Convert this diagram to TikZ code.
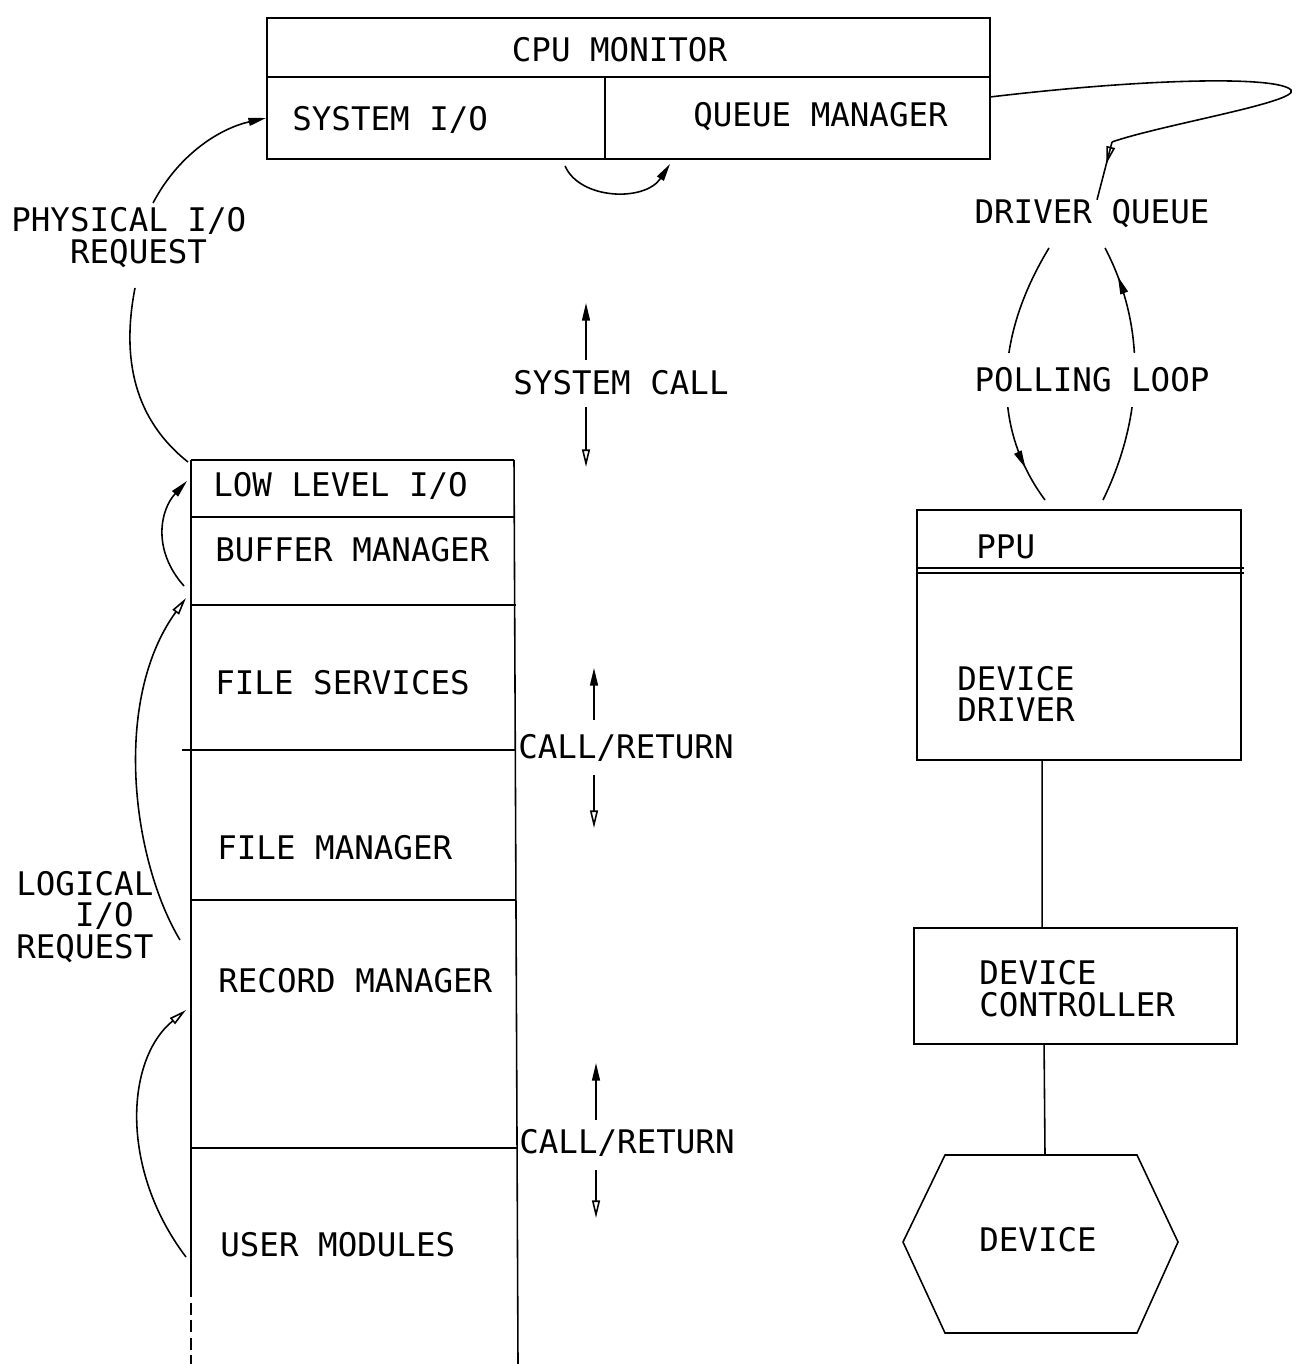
\documentclass[tikz,border=0pt]{standalone}
\usepackage{fontspec}
\setmonofont{DejaVu Sans Mono}
\usetikzlibrary{arrows.meta,decorations.markings,calc,backgrounds}

\tikzset{
  txt/.style={inner sep=0pt, text height=13.5pt, text depth=0pt},
  multi/.style={inner sep=0pt, align=left},
  boxframe/.style={draw, line width=1.1pt, inner sep=0pt},
  heavy/.style={line width=1.4pt},
  rule/.style={line width=1.2pt},
  edge/.style={line width=0.9pt},
  conn/.style={line width=0.9pt},
  tipF/.style={-{Triangle[length=10pt,width=4.5pt]}},
  tipO/.style={-{Triangle[open,length=10pt,width=4.5pt]}},
  midtip/.style={postaction={decorate},
    decoration={markings, mark=at position #1 with {\arrow{Triangle[length=10pt,width=4.5pt]}}}},
  midtipO/.style={postaction={decorate},
    decoration={markings, mark=at position #1 with {\arrow{Triangle[open,length=10pt,width=5pt]}}}}
}

\begin{document}
\begin{tikzpicture}[x=0.02cm, y=-0.02cm,
  font=\ttfamily\fontsize{18.5pt}{18.1pt}\selectfont]
\useasboundingbox (0,0) rectangle (1295,1364);

% ---------- CPU monitor ----------
\node[boxframe, heavy, minimum width=14.46cm, minimum height=2.82cm] (cpu) at (628.5,88.5) {};
\draw[heavy] (267,77) -- (990,77);
\draw[edge] (605,77) -- (605,159);
\node[txt] (cpumon) at (619.5,50) {CPU MONITOR};
\node[txt, anchor=west] (sysio) at (292,119) {SYSTEM I/O};
\node[txt, anchor=west] (qman) at (693,115) {QUEUE MANAGER};
\coordinate (sysio-in) at (266,118);
\coordinate (qman-out) at (990,97);
\coordinate (below-a) at (565,166);
\coordinate (below-b) at (670,164);

% hand-off between the two halves of the monitor
\draw[conn, tipF] (below-a) .. controls (580,200) and (645,202) .. (below-b);

% ---------- driver queue and polling loop ----------
\node[txt] (dq) at (1092,212) {DRIVER QUEUE};
\node[txt, fill=white, inner xsep=2pt, inner ysep=0.3cm] (poll) at (1092,380) {POLLING LOOP};
\coordinate (qbend) at (1112,142);

\draw[conn] (qman-out) .. controls (1150,78) and (1278,76) .. (1291,90)
   .. controls (1300,102) and (1160,125) .. (qbend);
\draw[conn, midtipO=0.38] (qbend) -- (dq.north -| 1097,0);

% ---------- PPU / device driver ----------
\node[boxframe, minimum width=6.48cm, minimum height=5cm] (ppu) at (1079,635) {};
\draw[edge] (917,568) -- (1244,568);
\draw[edge] (917,573) -- (1244,573);
\node[txt, anchor=west] (ppulbl) at (976,547) {PPU};
\node[multi, anchor=west] (drv) at (957,694) {DEVICE\\DRIVER};

\begin{scope}[on background layer]
  \draw[conn, midtip=0.86] (1049,248) .. controls (993,340) and (993,430) .. (1045,500);
  \draw[conn, midtip=0.88] (1103,500) .. controls (1142,420) and (1148,330) .. (1105,248);
\end{scope}

% ---------- device controller and device ----------
\node[boxframe, minimum width=6.46cm, minimum height=2.32cm] (ctrl) at (1075.5,986) {};
\node[multi, anchor=west] (ctrllbl) at (979,989) {DEVICE\\CONTROLLER};
\node[txt] (dev) at (1038,1240) {DEVICE};
\draw[edge] (945,1155) -- (1137,1155) -- (1178,1242) -- (1137,1333) -- (945,1333) -- (903,1242) -- cycle;
\coordinate (devtop) at (1045,1155);

\draw[edge] ($(ppu.south west)+(126,0)$) -- ($(ctrl.north west)+(129,0)$);
\draw[edge] ($(ctrl.south west)+(131,0)$) -- (devtop);

% ---------- system call ----------
\node[txt] (scall) at (621,383) {SYSTEM CALL};
\coordinate (sc-up) at (586,303);
\coordinate (sc-dn) at (586,467);
\draw[conn, tipF] (586,360) -- (sc-up);
\draw[conn, tipO] (586,407) -- (sc-dn);

% ---------- layered I/O stack ----------
\draw[rule] (191,460) -- (514,460);
\draw[edge] (191,460) -- (191,1285);
\draw[edge, dash pattern=on 7pt off 3pt] (191,1285) -- (191,1364);
\draw[edge] (514,460) -- (518,1364);
\draw[rule] (191,517) -- (514,517);
\draw[rule] (191,605) -- (516,605);
\draw[rule] (182,750) -- (515,750);
\draw[rule] (191,900) -- (516,900);
\draw[rule] (191,1148) -- (517,1148);

\node[txt, anchor=west] (lowio) at (213,485) {LOW LEVEL I/O};
\node[txt, anchor=west] (bufmgr) at (215,550) {BUFFER MANAGER};
\node[txt, anchor=west] (filesvc) at (215,683) {FILE SERVICES};
\node[txt, anchor=west] (filemgr) at (217,848) {FILE MANAGER};
\node[txt, anchor=west] (recmgr) at (218,981) {RECORD MANAGER};
\node[txt, anchor=west] (usermod) at (220,1245) {USER MODULES};

\node[txt, anchor=west] (cr1) at (518,747) {CALL/RETURN};
\node[txt, anchor=west] (cr2) at (519,1142) {CALL/RETURN};
\draw[conn, tipF] (594,720) -- (594,668);
\draw[conn, tipO] (594,775) -- (594,828);
\draw[conn, tipF] (596,1120) -- (596,1063);
\draw[conn, tipO] (596,1170) -- (596,1218);

% ---------- request paths on the left ----------
\node[multi, anchor=west] (pio) at (11,237.5) {PHYSICAL I/O\\\hphantom{PHY}REQUEST};
\node[multi, anchor=west] (lio) at (16,917) {LOGICAL\\\hphantom{LOG}I/O\\REQUEST};

\coordinate (pio-lo) at (135,288);
\coordinate (pio-hi) at (153,203);
\draw[conn] (188,462) .. controls (135,420) and (121,360) .. (pio-lo);
\draw[conn, tipF] (pio-hi) .. controls (180,152) and (222,128) .. (sysio-in);

\draw[conn, tipF] (184,586) .. controls (152,550) and (160,510) .. (187,481);
\draw[conn, tipO] (180,940) .. controls (132,860) and (112,700) .. (186,598);
\draw[conn, tipO] (186,1257) .. controls (120,1170) and (125,1060) .. (186,1010);
\end{tikzpicture}
\end{document}
